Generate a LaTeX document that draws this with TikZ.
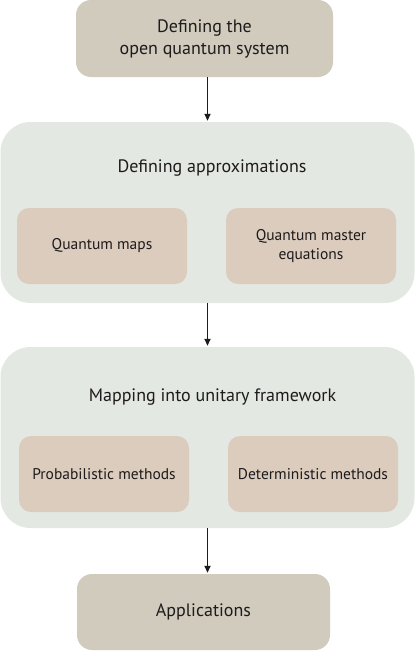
\documentclass[tikz,border=0pt]{standalone}
\usepackage{fontspec}
\setmainfont{PT Sans}
\usetikzlibrary{arrows.meta,positioning}
\definecolor{stone}{HTML}{D0CBBD}
\definecolor{sage}{HTML}{E3E8E2}
\definecolor{sand}{HTML}{DBCCBE}
\definecolor{ink}{HTML}{1E1B1C}
\tikzset{endbox/.style={fill=stone,rounded corners=15pt,align=center,text=ink,
  font=\fontsize{18}{22}\selectfont,minimum width=257pt,minimum height=77pt,inner sep=0pt},
  group/.style={fill=sage,rounded corners=30pt,minimum width=414pt,minimum height=181pt,inner sep=0pt},
  sub/.style={fill=sand,rounded corners=12pt,align=center,text=ink,
  font=\fontsize{15.5}{19}\selectfont,minimum width=170pt,minimum height=76pt,inner sep=0pt},
  head/.style={font=\fontsize{18}{22}\selectfont,text=ink},
  flow/.style={-{Triangle[length=7pt,width=6pt]},line width=1.6pt,draw=ink,shorten >=1pt}}

\begin{document}
\begin{tikzpicture}[x=1pt,y=1pt]
\useasboundingbox (0,0) rectangle (415,-651);
\node[endbox] (sys) at (204.5,-38.5) {Defining the\\open quantum system};
% approximations
\node[group] (approx) at (207.5,-212.5) {};
\node[head] (approxh) at (212,-168) {Defining approximations};
\node[sub] (maps) at (102,-246) {Quantum maps};
\node[sub] (qme) at (311,-246) {Quantum master\\equations};
% unitary framework
\node[group] (unit) at (207.5,-437.5) {};
\node[head] (unith) at (212.5,-397) {Mapping into unitary framework};
\node[sub] (prob) at (104,-474) {Probabilistic methods};
\node[sub] (det) at (313,-474) {Deterministic methods};
\node[endbox,minimum width=253pt,minimum height=76pt] (apps) at (203.5,-612) {Applications};
\draw[flow] (sys.south -| approx.north) -- (approx.north);
\draw[flow] (approx.south) -- (unit.north);
\draw[flow] (unit.south) -- (unit.south |- apps.north);
\end{tikzpicture}
\end{document}
